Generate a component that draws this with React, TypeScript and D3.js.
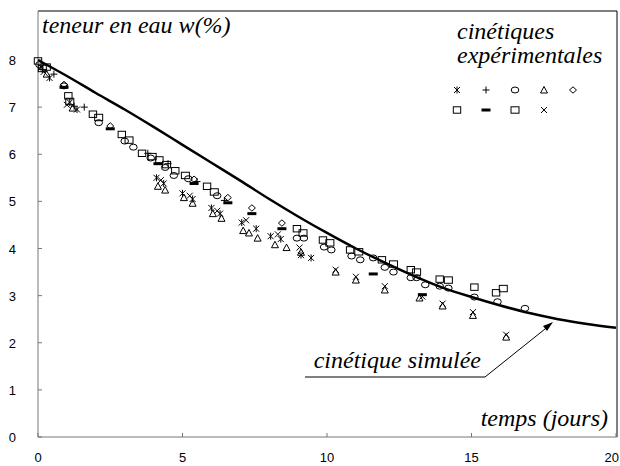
import React from "react";
import * as d3 from "d3";

// simulated curve, sampled per day
const simDays = [0, 1, 2, 3, 4, 5, 6, 7, 8, 9, 10, 11, 12, 13, 14, 15, 16, 17, 18, 19, 20];
const simW = [8.0, 7.66, 7.3, 6.95, 6.58, 6.2, 5.82, 5.44, 5.05, 4.68, 4.33, 4.0, 3.7, 3.42, 3.17, 2.97, 2.79, 2.63, 2.5, 2.4, 2.32];

// experimental kinetics [days, w%]
const starPts = [[0.1, 7.85], [0.4, 7.62], [1.1, 7.1], [1.35, 6.95], [4.1, 5.5], [4.35, 5.38], [5.0, 5.17], [5.35, 5.05], [6.0, 4.86], [6.3, 4.74], [7.05, 4.55], [7.55, 4.42], [8.05, 4.26], [8.4, 4.2], [9.1, 3.86], [9.45, 3.8]];
const plusPts = [[0.15, 7.8], [0.55, 7.7], [1.25, 7.02], [1.6, 7.0], [3.8, 6.02], [4.5, 5.8], [5.5, 5.42], [6.45, 5.02]];
const circlePts = [[0.05, 7.9], [0.9, 7.45], [2.1, 6.67], [3.0, 6.28], [3.3, 6.15], [3.9, 5.92], [4.4, 5.72], [4.7, 5.55], [5.2, 5.48], [6.2, 5.12], [8.96, 4.22], [9.2, 4.22], [9.9, 4.03], [10.15, 3.97], [10.85, 3.84], [11.15, 3.76], [11.6, 3.8], [12.0, 3.6], [12.3, 3.5], [12.9, 3.38], [13.1, 3.38], [13.4, 3.23], [13.9, 3.2], [14.2, 3.16], [15.1, 2.97], [15.9, 2.87], [16.85, 2.73]];
const trianglePts = [[0.3, 7.7], [1.2, 6.98], [4.15, 5.32], [4.4, 5.24], [5.05, 5.08], [5.35, 4.96], [6.05, 4.74], [6.35, 4.64], [7.1, 4.38], [7.3, 4.33], [7.6, 4.22], [8.2, 4.08], [8.6, 4.02], [9.1, 3.92], [10.3, 3.5], [11.0, 3.33], [12.0, 3.12], [13.2, 2.95], [14.0, 2.78], [15.05, 2.58], [16.2, 2.12]];
const diamondPts = [[0.9, 7.48], [2.5, 6.6], [5.4, 5.47], [6.57, 5.08], [7.4, 4.86], [8.44, 4.54]];
const squarePts = [[0.0, 7.98], [0.3, 7.85], [1.05, 7.24], [1.9, 6.85], [2.9, 6.42], [3.6, 6.02], [4.2, 5.88], [4.75, 5.65], [5.85, 5.32], [8.96, 4.42], [9.86, 4.18], [10.8, 3.97], [11.9, 3.76], [12.9, 3.55], [13.9, 3.35], [15.1, 3.18], [15.85, 3.06]];
const dashPts = [[0.9, 7.42], [2.5, 6.54], [4.15, 5.8], [5.4, 5.38], [6.57, 4.97], [7.4, 4.74], [8.44, 4.42], [11.6, 3.46], [13.3, 3.02]];
const square2Pts = [[0.15, 7.82], [1.1, 7.12], [2.1, 6.78], [3.15, 6.3], [3.95, 5.95], [4.45, 5.78], [5.1, 5.55], [6.1, 5.2], [9.17, 4.33], [10.1, 4.12], [11.1, 3.93], [12.3, 3.67], [13.1, 3.5], [14.2, 3.33], [16.1, 3.15]];
const timesPts = [[0.2, 7.75], [1.0, 7.05], [4.25, 5.45], [5.25, 5.12], [6.2, 4.8], [7.2, 4.6], [8.3, 4.3], [9.05, 4.02], [10.3, 3.55], [11.0, 3.4], [12.0, 3.2], [13.3, 2.98], [14.0, 2.83], [15.05, 2.65], [16.2, 2.17]];

const xTicks = [0, 5, 10, 15, 20];
const yTicks = [0, 1, 2, 3, 4, 5, 6, 7, 8];

const W = 620, H = 466;
const L = 38, R = 616, T = 11, B = 437;

const x = d3.scaleLinear().domain([0, 20]).range([L, R]);
const y = d3.scaleLinear().domain([0, 8]).range([B, 60]);

// marker glyphs, drawn at (0,0)
const Marker = ({ kind }: { kind: string }) => {
  const s = { stroke: "#000", strokeWidth: 1, fill: "none" };
  switch (kind) {
    case "star":
      return <path d="M-3,-3L3,3M-3,3L3,-3M0,-3.5L0,3.5" {...s} />;
    case "plus":
      return <path d="M-3.5,0L3.5,0M0,-3.5L0,3.5" {...s} />;
    case "circle":
      return <ellipse rx={3.8} ry={3} {...s} />;
    case "triangle":
      return <path d="M0,-3.5L3.5,3L-3.5,3Z" {...s} />;
    case "diamond":
      return <path d="M0,-3.2L3.5,0L0,3.2L-3.5,0Z" {...s} />;
    case "square":
      return <rect x={-3.7} y={-3.2} width={7.4} height={6.4} {...s} />;
    case "square2":
      return <rect x={-4} y={-3.2} width={8} height={6.4} {...s} />;
    case "dash":
      return <rect x={-4.5} y={-1.5} width={9} height={3} fill="#000" />;
    default:
      return <path d="M-3,-3L3,3M-3,3L3,-3" {...s} />;
  }
};

const series = [
  { kind: "star", pts: starPts },
  { kind: "plus", pts: plusPts },
  { kind: "circle", pts: circlePts },
  { kind: "triangle", pts: trianglePts },
  { kind: "diamond", pts: diamondPts },
  { kind: "square", pts: squarePts },
  { kind: "dash", pts: dashPts },
  { kind: "square2", pts: square2Pts },
  { kind: "times", pts: timesPts },
];

const App = () => {
  const line = d3
    .line<number>()
    .x((_, i) => x(simDays[i]))
    .y((d) => y(d))
    .curve(d3.curveMonotoneX);

  const serif = "'Liberation Serif', 'Times New Roman', serif";
  const sans = "'Liberation Sans', Arial, sans-serif";

  return (
    <svg width={W} height={H} style={{ position: "absolute", left: 0, top: 0, background: "#fff" }}>
      {/* frame */}
      <path d={`M${L},${T}L${R + 1},${T}L${R + 1},${B}`} fill="none" stroke="#000" strokeWidth={1} />
      <line x1={L} x2={L} y1={T} y2={B} stroke="#777" />
      <line x1={L} x2={R + 1} y1={B} y2={B} stroke="#777" />

      {/* ticks */}
      {yTicks.map((t) => (
        <g key={"y" + t}>
          <line x1={L} x2={L + 4} y1={y(t)} y2={y(t)} stroke="#777" />
          <text x={16} y={y(t) + 5} textAnchor="end" fontFamily={sans} fontSize={13}>{t}</text>
        </g>
      ))}
      {xTicks.map((t) => (
        <g key={"x" + t}>
          <line x1={x(t)} x2={x(t)} y1={B} y2={B - 4} stroke="#777" />
          <text
            x={t === 20 ? 619 : x(t)}
            y={462}
            textAnchor={t === 20 ? "end" : "middle"}
            fontFamily={sans}
            fontSize={13}
          >
            {t}
          </text>
        </g>
      ))}

      {/* simulated */}
      <path d={line(simW) || ""} fill="none" stroke="#000" strokeWidth={2.5} />

      {/* experimental */}
      {series.map((s) =>
        s.pts.map((p, i) => (
          <g key={s.kind + i} transform={`translate(${x(p[0])},${y(p[1])})`}>
            <Marker kind={s.kind} />
          </g>
        ))
      )}

      {/* titles */}
      <text x={42} y={33} fontFamily={serif} fontStyle="italic" fontSize={24}>teneur en eau w(%)</text>
      <text x={457} y={39} fontFamily={serif} fontStyle="italic" fontSize={24}>cinétiques</text>
      <text x={457} y={63} fontFamily={serif} fontStyle="italic" fontSize={24}>expérimentales</text>
      <text x={608} y={426} textAnchor="end" fontFamily={serif} fontStyle="italic" fontSize={24}>temps (jours)</text>

      {/* legend */}
      {series.map((s, i) => (
        <g key={"lg" + i} transform={`translate(${457 + (i % 5) * 29},${i < 5 ? 90 : 110})`}>
          <Marker kind={s.kind} />
        </g>
      ))}

      {/* annotation */}
      <text x={481} y={368} textAnchor="end" fontFamily={serif} fontStyle="italic" fontSize={24}>cinétique simulée</text>
      <path d="M305,377L485,377L550,325" fill="none" stroke="#000" strokeWidth={1} />
      <path d="M553,322L543,326L547,331Z" fill="#000" />
    </svg>
  );
};

export default App;
